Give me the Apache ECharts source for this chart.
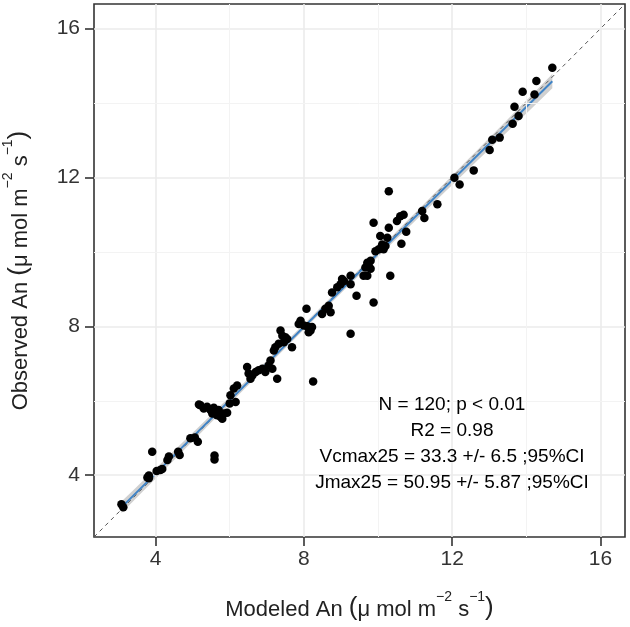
<!DOCTYPE html>
<html><head><meta charset="utf-8">
<script src="https://cdn.jsdelivr.net/npm/echarts@6/dist/echarts.min.js"></script>
<style>html,body{margin:0;padding:0;background:#fff}#c{width:630px;height:627px}</style>
</head><body><div id="c"></div>
<script>
// Modeled An (x) and Observed An (y), µmol m-2 s-1
const modeledAn = [3.08,3.13,3.82,3.82,3.78,3.91,4.03,4.13,4.18,4.32,4.36,4.61,4.65,4.94,5.06,5.14,5.59,5.59,
  5.17,5.21,5.30,5.39,5.48,5.57,5.62,5.53,5.66,5.75,5.84,5.93,5.80,6.00,6.02,6.11,6.20,6.16,
  6.47,6.51,6.56,6.61,6.70,6.78,6.88,6.96,7.05,7.10,7.15,7.28,7.19,7.23,7.32,7.37,7.42,7.50,7.55,7.46,7.68,
  7.86,7.91,8.00,8.09,8.13,8.07,8.25,8.18,8.22,8.49,8.58,8.67,8.72,9.26,8.76,8.90,8.99,9.08,9.03,9.26,9.26,9.42,9.88,
  9.61,9.71,9.66,9.71,9.80,9.75,9.93,10.02,10.11,10.15,10.20,10.06,10.25,10.29,10.33,9.88,10.51,10.60,10.69,10.29,
  10.76,10.63,11.19,11.25,11.60,12.06,12.20,12.58,13.01,13.08,13.28,13.63,13.79,13.68,13.90,14.22,14.27,14.70,5.70,9.80];
const observedAn = [3.22,3.14,3.99,3.92,3.94,4.63,4.11,4.14,4.17,4.41,4.50,4.63,4.54,4.99,5.01,4.90,4.53,4.42,
  5.90,5.88,5.79,5.84,5.75,5.81,5.68,5.66,5.61,5.57,5.66,5.68,5.52,5.93,6.15,6.33,6.41,5.97,
  6.91,6.73,6.59,6.68,6.77,6.82,6.86,6.77,6.95,7.08,6.86,6.59,7.35,7.44,7.53,7.89,7.75,7.71,7.66,7.57,7.44,
  8.06,8.15,8.02,8.00,7.84,8.47,6.52,7.89,7.98,8.33,8.47,8.55,8.38,7.80,8.91,9.05,9.13,9.22,9.27,9.36,9.13,8.82,8.64,
  9.36,9.36,9.58,9.71,9.76,9.62,10.02,10.07,10.20,10.07,10.16,10.43,10.38,10.65,9.36,10.78,10.83,10.96,11.00,11.63,
  10.54,10.22,11.10,10.91,11.28,11.99,11.81,12.19,12.74,13.01,13.07,13.44,13.65,13.90,14.30,14.23,14.59,14.95,5.75,9.55];
const axisRange = [2.34, 16.66];
const tickValues = [4, 8, 12, 16];
const minorValues = [6, 10, 14];
const annotationLines = ['N = 120; p < 0.01', 'R2 = 0.98', 'Vcmax25 = 33.3 +/- 6.5 ;95%CI', 'Jmax25 = 50.95 +/- 5.87 ;95%CI'];

// linear regression + 95% confidence band
const n = modeledAn.length;
const mx = modeledAn.reduce((a,b)=>a+b,0)/n, my = observedAn.reduce((a,b)=>a+b,0)/n;
let sxx=0, sxy=0; for (let i=0;i<n;i++){ sxx+=(modeledAn[i]-mx)**2; sxy+=(modeledAn[i]-mx)*(observedAn[i]-my); }
const slope = sxy/sxx, icpt = my - slope*mx;
let sse=0; for (let i=0;i<n;i++){ sse += (observedAn[i]-(icpt+slope*modeledAn[i]))**2; }
const s = Math.sqrt(sse/(n-2)), tq = 1.98;
const xLo = Math.min(...modeledAn), xHi = Math.max(...modeledAn);
const upper=[], lower=[];
for (let k=0;k<=40;k++){ const x = xLo+(xHi-xLo)*k/40; const f = icpt+slope*x; const se = s*Math.sqrt(1/n+(x-mx)**2/sxx); upper.push([x,f+tq*se]); lower.push([x,f-tq*se]); }

const FONT = '"Liberation Sans", Arial, sans-serif';
const chart = echarts.init(document.getElementById('c'), null, {renderer:'canvas'});
const rich = {
  t:{fontSize:22, color:'#222', fontFamily:FONT, lineHeight:31, verticalAlign:'bottom'},
  p:{fontSize:26, color:'#222', fontFamily:FONT, lineHeight:31, verticalAlign:'bottom'},
  s:{fontSize:14, color:'#222', fontFamily:FONT, lineHeight:31, verticalAlign:'top'}
};
const gridLines = [];
tickValues.forEach(v=>{ gridLines.push({xAxis:v, lineStyle:{color:'#ebebeb', width:1.6, type:'solid'}}); gridLines.push({yAxis:v, lineStyle:{color:'#ebebeb', width:1.6, type:'solid'}}); });
minorValues.forEach(v=>{ gridLines.push({xAxis:v, lineStyle:{color:'#f3f3f3', width:1, type:'solid'}}); gridLines.push({yAxis:v, lineStyle:{color:'#f3f3f3', width:1, type:'solid'}}); });

const axisCommon = {
  type:'value', min:axisRange[0], max:axisRange[1],
  axisLine:{show:false}, splitLine:{show:false},
  axisTick:{show:true, customValues:tickValues, length:9, lineStyle:{color:'#333', width:1.6}},
  axisLabel:{customValues:tickValues, fontSize:21, color:'#333', fontFamily:FONT},
  nameLocation:'middle', nameTextStyle:{rich:rich}
};
chart.setOption({
  animation:false,
  textStyle:{fontFamily:FONT},
  grid:{left:94, right:5, top:4, bottom:90, show:true, containLabel:false, outerBoundsMode:'none',
    borderColor:'#333', borderWidth:1.6, backgroundColor:'transparent'},
  xAxis:Object.assign({}, axisCommon, {axisLabel:Object.assign({}, axisCommon.axisLabel, {margin:12}),
    name:'{t|Modeled An }{p|(}{t|μ mol m}{s|−2}{t| s}{s|−1}{p|)}', nameGap:53}),
  yAxis:Object.assign({}, axisCommon, {axisLabel:Object.assign({}, axisCommon.axisLabel, {margin:14}),
    name:'{t|Observed An }{p|(}{t|μ mol m}{s|−2}{t| s}{s|−1}{p|)}', nameGap:62, nameRotate:90}),
  graphic: annotationLines.map((txt,i)=>({type:'text', x:452, y:405+i*26, z:100,
    style:{text:txt, font:'19px '+FONT, fill:'#000', textAlign:'center', textVerticalAlign:'middle'}})),
  series:[
    {type:'line', name:'grid', data:[], silent:true, z:0,
      markLine:{silent:true, symbol:'none', label:{show:false}, animation:false, data:gridLines}},
    {type:'custom', name:'ci', z:2, silent:true, data:[0],
      renderItem:(params, api)=>{ const pts = upper.map(p=>api.coord(p)).concat(lower.slice().reverse().map(p=>api.coord(p)));
        return {type:'polygon', shape:{points:pts}, style:{fill:'rgba(150,150,150,0.45)'}}; }},
    {type:'line', name:'one-to-one', z:3, silent:true, symbol:'none', data:[[axisRange[0],axisRange[0]],[axisRange[1],axisRange[1]]],
      lineStyle:{color:'#555', width:1, type:[4,4]}},
    {type:'line', name:'fit', z:4, silent:true, symbol:'none', data:[[xLo, icpt+slope*xLo],[xHi, icpt+slope*xHi]],
      lineStyle:{color:'#3f83c6', width:2}},
    {type:'scatter', name:'obs', z:5, symbol:'circle', symbolSize:8.5, itemStyle:{color:'#000', opacity:1},
      data: modeledAn.map((x,i)=>[x, observedAn[i]])}
  ]
});
</script></body></html>
